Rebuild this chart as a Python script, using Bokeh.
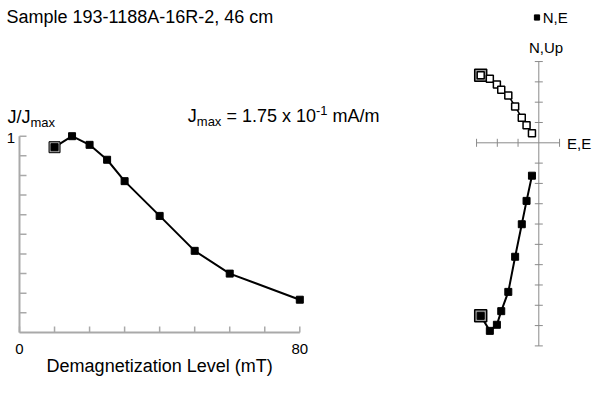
from bokeh.plotting import figure
from bokeh.models import Range1d, Label, Legend, LegendItem
from bokeh.embed import file_html
from bokeh.resources import INLINE

# ---------------- data ----------------
demag_mT = [10, 15, 20, 25, 30, 40, 50, 60, 80]
j_norm = [0.944, 1.0, 0.956, 0.88, 0.771, 0.594, 0.416, 0.30, 0.167]

x_ticks = [0, 10, 20, 30, 40, 50, 60, 70, 80]
x_tick_labels = ["0", "80"]
x_tick_label_pos = [0, 80]
y_ticks = [0.1, 0.2, 0.3, 0.4, 0.5, 0.6, 0.7, 0.8, 0.9, 1.0]

# Zijderveld (arbitrary tick units)
zij_h = [-2.80, -2.36, -2.02, -1.81, -1.47, -1.14, -0.82, -0.59, -0.33]
zij_up = [3.33, 3.15, 2.87, 2.61, 2.33, 1.79, 1.23, 0.87, 0.47]
zij_n = [-8.52, -9.26, -8.96, -8.29, -7.34, -5.61, -4.01, -2.86, -1.62]
zij_h_ticks = [-3, -2, -1, 1]
zij_v_ticks = [-10, -9, -8, -7, -6, -5, -4, -3, -2, -1, 1, 2, 3, 4]

FONT = "Liberation Sans"

# ---------------- geometry (reference pixels -> data) ----------------
W, H = 602, 398
PXX = (299.3 - 19) / 80.0      # px per mT
PXY = 196.3                    # px per unit J/Jmax
X0PX, Y0PX = 19, 332           # origin of left plot (px)

PXH, PXV = 20.75, 20.31        # Zijderveld px per unit
OX, OY = 538.3, 142.3          # Zijderveld origin (px)

x_start = (0 - X0PX) / PXX
x_end = (W - X0PX) / PXX
y_start = (Y0PX - H) / PXY
y_end = (Y0PX - 0) / PXY

zx_start = (0 - OX) / PXH
zx_end = (W - OX) / PXH
zy_start = (OY - H) / PXV
zy_end = (OY - 0) / PXV

p = figure(width=W, height=H, x_range=Range1d(x_start, x_end), y_range=Range1d(y_start, y_end),
           output_backend="svg", toolbar_location=None, x_axis_type=None, y_axis_type=None,
           title=None, min_border_left=0, min_border_bottom=0, min_border_top=0,
           min_border_right=0)
p.extra_x_ranges = {"zx": Range1d(zx_start, zx_end)}
p.extra_y_ranges = {"zy": Range1d(zy_start, zy_end)}
p.grid.visible = False
p.outline_line_color = None

# ---------------- left plot axes ----------------
AX_COL = "#a9a9a9"
x_lo, x_hi = min(x_ticks), max(x_ticks)
y_hi = max(y_ticks)
p.segment(x0=[x_lo, 0], y0=[0, 0], x1=[x_hi, 0], y1=[0, y_hi], line_color=AX_COL, line_width=2)
tick_y_len = 6.0 / PXY
tick_x_len = 7.0 / PXX
p.segment(x0=x_ticks, y0=[0] * len(x_ticks), x1=x_ticks, y1=[tick_y_len] * len(x_ticks),
          line_color=AX_COL, line_width=1.5)
p.segment(x0=[0] * len(y_ticks), y0=y_ticks, x1=[tick_x_len] * len(y_ticks), y1=y_ticks,
          line_color=AX_COL, line_width=1.5)

# ---------------- left plot data ----------------
p.line(demag_mT, j_norm, line_color="black", line_width=2)
p.scatter(demag_mT[:1], j_norm[:1], marker="square", size=11,
          fill_color="#a0a0a0", line_color="black", line_width=1)
p.scatter(demag_mT, j_norm, marker="square", size=7, fill_color="black", line_color="black")


def dx(px):
    return (px - X0PX) / PXX


def dy(py):
    return (Y0PX - py) / PXY


def lab(x, y, text, size, align="left", baseline="alphabetic", zij=False):
    kw = {}
    if zij:
        kw = dict(x_range_name="zx", y_range_name="zy")
    p.add_layout(Label(x=x, y=y, text=text, text_font=FONT, text_font_size=size,
                       text_color="black", text_align=align, text_baseline=baseline, **kw))


lab(dx(6), dy(16.5), "Sample 193-1188A-16R-2, 46 cm", "18px")
lab(dx(7), dy(116), "J/J", "18px")
lab(dx(30), dy(121.5), "max", "13px")
lab(dx(14.5), dy(137), "1", "15px", align="right")
for pos, txt in zip(x_tick_label_pos, x_tick_labels):
    lab(pos, dy(348), txt, "15px", align="center")
lab((x_lo + x_hi) / 2, dy(365), "Demagnetization Level (mT)", "18px", align="center")

lab(dx(187.3), dy(115), "J", "18px")
lab(dx(196.3), dy(120.5), "max", "13px")
lab(dx(225.9), dy(115), "= 1.75 x 10", "18px")
lab(dx(315.5), dy(109.5), "-1", "13px")
lab(dx(332.1), dy(115), "mA/m", "18px")

# ---------------- Zijderveld ----------------
ZAX = "#8a8a8a"
h_lo, h_hi = min(zij_h_ticks), max(zij_h_ticks)
v_lo, v_hi = min(zij_v_ticks), max(zij_v_ticks)
zk = dict(x_range_name="zx", y_range_name="zy")
p.segment(x0=[h_lo, 0], y0=[0, v_lo], x1=[h_hi, 0], y1=[0, v_hi], line_color=ZAX, line_width=1, **zk)
tx = 4.0 / PXH
ty = 4.0 / PXV
p.segment(x0=zij_h_ticks, y0=[-ty] * len(zij_h_ticks), x1=zij_h_ticks, y1=[ty] * len(zij_h_ticks),
          line_color=ZAX, line_width=1, **zk)
p.segment(x0=[-tx] * len(zij_v_ticks), y0=zij_v_ticks, x1=[tx] * len(zij_v_ticks), y1=zij_v_ticks,
          line_color=ZAX, line_width=1, **zk)

# vertical projection (open squares)
p.line(zij_h, zij_up, line_color="black", line_width=1.5, **zk)
p.scatter(zij_h[:1], zij_up[:1], marker="square", size=12, fill_color="#9a9a9a",
          line_color="black", line_width=1.5, **zk)
p.scatter(zij_h, zij_up, marker="square", size=7, fill_color="white",
          line_color="black", line_width=1.5, **zk)

# horizontal projection (solid squares)
p.line(zij_h, zij_n, line_color="black", line_width=2, **zk)
p.scatter(zij_h[:1], zij_n[:1], marker="square", size=12, fill_color="#9a9a9a",
          line_color="black", line_width=1.5, **zk)
solid = p.scatter(zij_h, zij_n, marker="square", size=7, fill_color="black",
                  line_color="black", **zk)


def rx(px):
    return (px - OX) / PXH


def ry(py):
    return (OY - py) / PXV


lab(rx(545.5), ry(47), "N,Up", "15px", align="center", zij=True)
lab(rx(566.5), ry(142.5), "E,E", "15px", zij=True)

legend = Legend(items=[LegendItem(label="N,E", renderers=[solid])],
                location=(536.2 - 6.5, H - (17.2 + 9)), orientation="vertical",
                border_line_color=None, background_fill_alpha=0,
                padding=0, margin=0, spacing=0,
                glyph_width=13, glyph_height=18, label_standoff=0,
                label_height=18, label_text_font=FONT, label_text_font_size="15px",
                label_text_color="black")
p.add_layout(legend)

open("out.html", "w").write(file_html(p, INLINE))
